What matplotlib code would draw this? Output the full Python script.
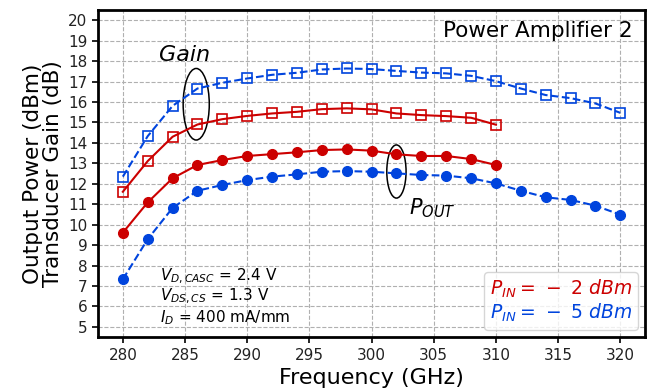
import matplotlib
matplotlib.use('Agg')
import matplotlib.pyplot as plt
from matplotlib.patches import Ellipse

# frequency points (GHz)
freq_m2 = [280, 282, 284, 286, 288, 290, 292, 294, 296, 298, 300,
           302, 304, 306, 308, 310]
freq_m5 = [280, 282, 284, 286, 288, 290, 292, 294, 296, 298, 300,
           302, 304, 306, 308, 310, 312, 314, 316, 318, 320]

# P_IN = -2 dBm
gain_m2 = [11.61, 13.11, 14.30, 14.90, 15.16, 15.32, 15.44, 15.52, 15.65, 15.69, 15.64,
           15.44, 15.36, 15.31, 15.23, 14.89]
pout_m2 = [9.61, 11.09, 12.27, 12.92, 13.16, 13.36, 13.45, 13.54, 13.65, 13.68, 13.62,
           13.44, 13.36, 13.36, 13.21, 12.92]

# P_IN = -5 dBm
gain_m5 = [12.35, 14.33, 15.81, 16.66, 16.94, 17.15, 17.33, 17.43, 17.59, 17.64, 17.61,
           17.52, 17.44, 17.40, 17.28, 17.02, 16.66, 16.34, 16.19, 15.93, 15.47]
pout_m5 = [7.33, 9.29, 10.82, 11.66, 11.94, 12.18, 12.35, 12.46, 12.59, 12.62, 12.59,
           12.51, 12.43, 12.40, 12.27, 12.02, 11.66, 11.34, 11.21, 10.93, 10.49]

red = '#cc0000'
blue = '#0044dd'

fig = plt.figure(figsize=(6.51, 3.92), dpi=100)
ax = fig.add_axes([0.1505, 0.140, 0.8405, 0.8345])

ax.plot(freq_m2, gain_m2, '-', color=red, lw=1.5, marker='s', ms=6.5,
        mfc='none', mec=red, mew=1.2)
ax.plot(freq_m2, pout_m2, '-', color=red, lw=1.5, marker='o', ms=7)
ax.plot(freq_m5, gain_m5, '--', color=blue, lw=1.5, marker='s', ms=6.5,
        mfc='none', mec=blue, mew=1.2)
ax.plot(freq_m5, pout_m5, '--', color=blue, lw=1.5, marker='o', ms=7)

ax.add_patch(Ellipse((285.9, 15.89), 2.1, 3.5, fill=False, ec='k', lw=1.1))
ax.add_patch(Ellipse((302.0, 12.6), 1.55, 2.6, fill=False, ec='k', lw=1.1))

ax.text(285.0, 18.3, 'Gain', fontsize=16, style='italic', ha='center', va='center')
ax.text(304.9, 10.82, r'$P_{OUT}$', fontsize=15, ha='center', va='center')
ax.text(0.978, 0.965, 'Power Amplifier 2', transform=ax.transAxes, fontsize=15.5,
        ha='right', va='top')

ax.text(283.0, 7.49, r'$V_{D,CASC}$ = 2.4 V', fontsize=11, va='center')
ax.text(283.0, 6.47, r'$V_{DS,CS}$ = 1.3 V', fontsize=11, va='center')
ax.text(283.0, 5.44, r'$I_{D}$ = 400 mA/mm', fontsize=11, va='center')

h1, = ax.plot([], [], color=red, label=r'$P_{IN} =\,-\ 2\ dBm$')
h2, = ax.plot([], [], color=blue, label=r'$P_{IN} =\,-\ 5\ dBm$')
leg = ax.legend(handles=[h1, h2], loc='lower right', fontsize=13.5,
                handlelength=0, handletextpad=0, borderpad=0.3,
                labelspacing=0.1, borderaxespad=0.4, framealpha=0.8)
for txt, c in zip(leg.get_texts(), [red, blue]):
    txt.set_color(c)
for h in leg.legend_handles:
    h.set_visible(False)

ax.set_xlim(278, 322)
ax.set_ylim(4.5, 20.5)
ax.set_xticks(range(280, 321, 5))
ax.set_yticks(range(5, 21))
ax.tick_params(labelsize=11, width=1.2, length=4, labelcolor='#222222')
ax.grid(True, color='#b0b0b0', ls='--', lw=0.8)
ax.set_axisbelow(True)
for s in ax.spines.values():
    s.set_linewidth(2)

ax.set_xlabel('Frequency (GHz)', fontsize=16)
ax.set_ylabel('Output Power (dBm)\nTransducer Gain (dB)', fontsize=15.5, linespacing=1.0)

plt.savefig('out.png', dpi=100)
